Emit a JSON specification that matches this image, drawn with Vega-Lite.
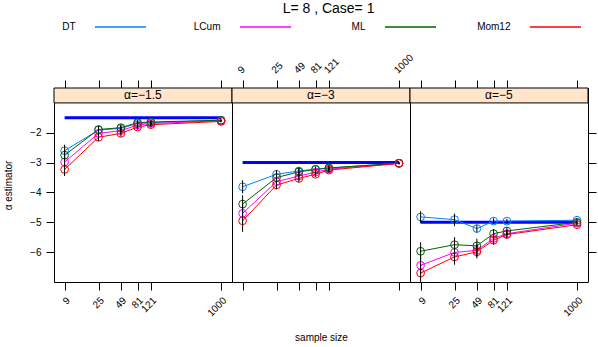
{
  "$schema": "https://vega.github.io/schema/vega-lite/v6.json",
  "padding": {"left": 3, "right": 0, "top": 2, "bottom": 0},
  "background": "white",
  "title": {"text": "L= 8 , Case= 1", "fontSize": 14, "fontWeight": "normal", "font": "Liberation Sans", "anchor": "middle", "dx": 10, "offset": 4, "color": "black"},
  "config": {
    "font": "Liberation Sans",
    "view": {"stroke": "black", "strokeWidth": 1},
    "axis": {"grid": false, "domain": false, "labelFont": "Liberation Sans", "titleFont": "Liberation Sans", "labelColor": "black", "titleColor": "black", "tickColor": "black", "labelFontSize": 10, "titleFontSize": 10, "titleFontWeight": "normal", "tickSize": 8, "labelPadding": 5, "labelOverlap": false}
  },
  "datasets": {
    "est": [
      {"panel": "-1.5", "n": 9, "estimator": "DT", "value": -2.60, "lo": -2.80, "hi": -2.40},
      {"panel": "-1.5", "n": 9, "estimator": "LCum", "value": -2.98, "lo": -3.18, "hi": -2.78},
      {"panel": "-1.5", "n": 9, "estimator": "ML", "value": -2.75, "lo": -2.95, "hi": -2.55},
      {"panel": "-1.5", "n": 9, "estimator": "Mom12", "value": -3.23, "lo": -3.45, "hi": -3.03},
      {"panel": "-1.5", "n": 25, "estimator": "DT", "value": -1.91, "lo": -2.03, "hi": -1.79},
      {"panel": "-1.5", "n": 25, "estimator": "LCum", "value": -2.02, "lo": -2.14, "hi": -1.90},
      {"panel": "-1.5", "n": 25, "estimator": "ML", "value": -1.89, "lo": -2.01, "hi": -1.77},
      {"panel": "-1.5", "n": 25, "estimator": "Mom12", "value": -2.15, "lo": -2.28, "hi": -2.03},
      {"panel": "-1.5", "n": 49, "estimator": "DT", "value": -1.85, "lo": -1.95, "hi": -1.75},
      {"panel": "-1.5", "n": 49, "estimator": "LCum", "value": -1.93, "lo": -2.03, "hi": -1.83},
      {"panel": "-1.5", "n": 49, "estimator": "ML", "value": -1.83, "lo": -1.93, "hi": -1.73},
      {"panel": "-1.5", "n": 49, "estimator": "Mom12", "value": -2.02, "lo": -2.13, "hi": -1.92},
      {"panel": "-1.5", "n": 81, "estimator": "DT", "value": -1.69, "lo": -1.77, "hi": -1.61},
      {"panel": "-1.5", "n": 81, "estimator": "LCum", "value": -1.74, "lo": -1.82, "hi": -1.66},
      {"panel": "-1.5", "n": 81, "estimator": "ML", "value": -1.66, "lo": -1.74, "hi": -1.58},
      {"panel": "-1.5", "n": 81, "estimator": "Mom12", "value": -1.81, "lo": -1.90, "hi": -1.73},
      {"panel": "-1.5", "n": 121, "estimator": "DT", "value": -1.66, "lo": -1.73, "hi": -1.59},
      {"panel": "-1.5", "n": 121, "estimator": "LCum", "value": -1.69, "lo": -1.76, "hi": -1.62},
      {"panel": "-1.5", "n": 121, "estimator": "ML", "value": -1.64, "lo": -1.71, "hi": -1.57},
      {"panel": "-1.5", "n": 121, "estimator": "Mom12", "value": -1.73, "lo": -1.81, "hi": -1.66},
      {"panel": "-1.5", "n": 1000, "estimator": "DT", "value": -1.58, "lo": -1.61, "hi": -1.55},
      {"panel": "-1.5", "n": 1000, "estimator": "LCum", "value": -1.60, "lo": -1.63, "hi": -1.57},
      {"panel": "-1.5", "n": 1000, "estimator": "ML", "value": -1.58, "lo": -1.61, "hi": -1.55},
      {"panel": "-1.5", "n": 1000, "estimator": "Mom12", "value": -1.62, "lo": -1.65, "hi": -1.59},
      {"panel": "-3", "n": 9, "estimator": "DT", "value": -3.81, "lo": -4.03, "hi": -3.59},
      {"panel": "-3", "n": 9, "estimator": "LCum", "value": -4.70, "lo": -5.03, "hi": -4.37},
      {"panel": "-3", "n": 9, "estimator": "ML", "value": -4.39, "lo": -4.69, "hi": -4.09},
      {"panel": "-3", "n": 9, "estimator": "Mom12", "value": -4.95, "lo": -5.32, "hi": -4.60},
      {"panel": "-3", "n": 25, "estimator": "DT", "value": -3.39, "lo": -3.53, "hi": -3.25},
      {"panel": "-3", "n": 25, "estimator": "LCum", "value": -3.64, "lo": -3.78, "hi": -3.50},
      {"panel": "-3", "n": 25, "estimator": "ML", "value": -3.50, "lo": -3.64, "hi": -3.36},
      {"panel": "-3", "n": 25, "estimator": "Mom12", "value": -3.75, "lo": -3.89, "hi": -3.61},
      {"panel": "-3", "n": 49, "estimator": "DT", "value": -3.28, "lo": -3.40, "hi": -3.16},
      {"panel": "-3", "n": 49, "estimator": "LCum", "value": -3.45, "lo": -3.57, "hi": -3.33},
      {"panel": "-3", "n": 49, "estimator": "ML", "value": -3.31, "lo": -3.43, "hi": -3.19},
      {"panel": "-3", "n": 49, "estimator": "Mom12", "value": -3.53, "lo": -3.66, "hi": -3.41},
      {"panel": "-3", "n": 81, "estimator": "DT", "value": -3.22, "lo": -3.31, "hi": -3.13},
      {"panel": "-3", "n": 81, "estimator": "LCum", "value": -3.32, "lo": -3.41, "hi": -3.23},
      {"panel": "-3", "n": 81, "estimator": "ML", "value": -3.23, "lo": -3.32, "hi": -3.14},
      {"panel": "-3", "n": 81, "estimator": "Mom12", "value": -3.39, "lo": -3.48, "hi": -3.30},
      {"panel": "-3", "n": 121, "estimator": "DT", "value": -3.18, "lo": -3.26, "hi": -3.10},
      {"panel": "-3", "n": 121, "estimator": "LCum", "value": -3.22, "lo": -3.30, "hi": -3.14},
      {"panel": "-3", "n": 121, "estimator": "ML", "value": -3.18, "lo": -3.26, "hi": -3.10},
      {"panel": "-3", "n": 121, "estimator": "Mom12", "value": -3.25, "lo": -3.34, "hi": -3.17},
      {"panel": "-3", "n": 1000, "estimator": "DT", "value": -3.02, "lo": -3.05, "hi": -2.99},
      {"panel": "-3", "n": 1000, "estimator": "LCum", "value": -3.02, "lo": -3.05, "hi": -2.99},
      {"panel": "-3", "n": 1000, "estimator": "ML", "value": -3.02, "lo": -3.05, "hi": -2.99},
      {"panel": "-3", "n": 1000, "estimator": "Mom12", "value": -3.03, "lo": -3.06, "hi": -3.00},
      {"panel": "-5", "n": 9, "estimator": "DT", "value": -4.82, "lo": -5.02, "hi": -4.63},
      {"panel": "-5", "n": 9, "estimator": "LCum", "value": -6.44, "lo": -6.74, "hi": -6.14},
      {"panel": "-5", "n": 9, "estimator": "ML", "value": -5.97, "lo": -6.27, "hi": -5.67},
      {"panel": "-5", "n": 9, "estimator": "Mom12", "value": -6.70, "lo": -7.00, "hi": -6.40},
      {"panel": "-5", "n": 25, "estimator": "DT", "value": -4.91, "lo": -5.13, "hi": -4.71},
      {"panel": "-5", "n": 25, "estimator": "LCum", "value": -6.01, "lo": -6.26, "hi": -5.76},
      {"panel": "-5", "n": 25, "estimator": "ML", "value": -5.75, "lo": -6.00, "hi": -5.50},
      {"panel": "-5", "n": 25, "estimator": "Mom12", "value": -6.16, "lo": -6.42, "hi": -5.91},
      {"panel": "-5", "n": 49, "estimator": "DT", "value": -5.21, "lo": -5.34, "hi": -5.08},
      {"panel": "-5", "n": 49, "estimator": "LCum", "value": -5.94, "lo": -6.16, "hi": -5.72},
      {"panel": "-5", "n": 49, "estimator": "ML", "value": -5.79, "lo": -6.03, "hi": -5.55},
      {"panel": "-5", "n": 49, "estimator": "Mom12", "value": -5.99, "lo": -6.21, "hi": -5.77},
      {"panel": "-5", "n": 81, "estimator": "DT", "value": -4.96, "lo": -5.06, "hi": -4.86},
      {"panel": "-5", "n": 81, "estimator": "LCum", "value": -5.54, "lo": -5.69, "hi": -5.39},
      {"panel": "-5", "n": 81, "estimator": "ML", "value": -5.38, "lo": -5.53, "hi": -5.23},
      {"panel": "-5", "n": 81, "estimator": "Mom12", "value": -5.60, "lo": -5.75, "hi": -5.45},
      {"panel": "-5", "n": 121, "estimator": "DT", "value": -4.96, "lo": -5.04, "hi": -4.88},
      {"panel": "-5", "n": 121, "estimator": "LCum", "value": -5.38, "lo": -5.50, "hi": -5.26},
      {"panel": "-5", "n": 121, "estimator": "ML", "value": -5.29, "lo": -5.41, "hi": -5.17},
      {"panel": "-5", "n": 121, "estimator": "Mom12", "value": -5.41, "lo": -5.53, "hi": -5.29},
      {"panel": "-5", "n": 1000, "estimator": "DT", "value": -4.93, "lo": -4.97, "hi": -4.89},
      {"panel": "-5", "n": 1000, "estimator": "LCum", "value": -5.03, "lo": -5.07, "hi": -4.99},
      {"panel": "-5", "n": 1000, "estimator": "ML", "value": -5.00, "lo": -5.04, "hi": -4.96},
      {"panel": "-5", "n": 1000, "estimator": "Mom12", "value": -5.08, "lo": -5.12, "hi": -5.04}
    ],
    "truth": [
      {"panel": "-1.5", "n": 9, "value": -1.5},
      {"panel": "-1.5", "n": 1000, "value": -1.5},
      {"panel": "-3", "n": 9, "value": -3},
      {"panel": "-3", "n": 1000, "value": -3},
      {"panel": "-5", "n": 9, "value": -5},
      {"panel": "-5", "n": 1000, "value": -5}
    ],
    "keys": [
      {"estimator": "DT"}, {"estimator": "LCum"}, {"estimator": "ML"}, {"estimator": "Mom12"}
    ]
  },
  "vconcat": [
    {
      "width": 580,
      "height": 14,
      "view": {"stroke": null},
      "data": {"name": "keys"},
      "layer": [
        {
          "mark": {"type": "tick", "orient": "horizontal", "size": 51, "thickness": 1.5, "opacity": 1},
          "encoding": {
            "x": {"field": "estimator", "type": "nominal", "scale": {"domain": ["DT", "LCum", "ML", "Mom12"], "paddingInner": 0, "paddingOuter": 0, "range": [-6, 574]}, "axis": null},
            "color": {"field": "estimator", "type": "nominal", "scale": {"domain": ["DT", "LCum", "ML", "Mom12"], "range": ["#0080ff", "#ff00ff", "#006400", "#ff0000"]}, "legend": null}
          }
        },
        {
          "mark": {"type": "text", "align": "right", "baseline": "middle", "dx": -45, "fontSize": 10, "color": "black"},
          "encoding": {
            "x": {"field": "estimator", "type": "nominal", "axis": null},
            "text": {"field": "estimator"}
          }
        }
      ]
    },
    {
      "bounds": "flush",
      "spacing": 0,
      "hconcat": [
        {
          "width": 178, "height": 194,
          "resolve": {"axis": {"x": "independent", "y": "independent"}},
          "layer": [
            {
              "data": {"values": [{"label": "α=−1.5"}]},
              "mark": {"type": "rect", "fill": "#ffe5cc", "stroke": "black", "strokeWidth": 1},
              "encoding": {
                "x": {"datum": 6.54, "type": "quantitative", "scale": {"type": "log", "domain": [6.54, 1392], "nice": false}, "axis": {"orient": "bottom", "values": [9, 25, 49, 81, 121, 1000], "format": "d", "labelAngle": -45, "title": null}},
                "x2": {"datum": 1392},
                "y": {"datum": -1.0, "type": "quantitative", "scale": {"domain": [-7, -0.5], "nice": false, "zero": false}, "axis": {"orient": "left", "values": [-2, -3, -4, -5, -6], "title": "α estimator", "labelPadding": 5, "titlePadding": 16}},
                "y2": {"datum": -0.5}
              }
            },
            {
              "data": {"values": [{"label": "α=−1.5"}]},
              "mark": {"type": "text", "fontSize": 12, "baseline": "middle", "align": "center", "color": "black"},
              "encoding": {
                "x": {"datum": 95, "type": "quantitative", "axis": {"orient": "top", "values": [9, 25, 49, 81, 121, 1000], "labels": false, "title": null}},
                "y": {"datum": -0.75, "type": "quantitative", "axis": null},
                "text": {"field": "label"}
              }
            },
            {
              "data": {"name": "truth"},
              "transform": [{"filter": {"field": "panel", "equal": "-1.5"}}],
              "mark": {"type": "line", "color": "#0000ff", "strokeWidth": 3},
              "encoding": {"x": {"field": "n", "type": "quantitative", "axis": null}, "y": {"field": "value", "type": "quantitative", "axis": null}}
            },
            {
              "data": {"name": "est"},
              "transform": [{"filter": {"field": "panel", "equal": "-1.5"}}],
              "mark": {"type": "line", "strokeWidth": 1},
              "encoding": {"x": {"field": "n", "type": "quantitative", "axis": null}, "y": {"field": "value", "type": "quantitative", "axis": null}, "color": {"field": "estimator", "type": "nominal", "scale": {"domain": ["DT", "LCum", "ML", "Mom12"], "range": ["#0080ff", "#ff00ff", "#006400", "#ff0000"]}, "legend": null}}
            },
            {
              "data": {"name": "est"},
              "transform": [{"filter": {"field": "panel", "equal": "-1.5"}}],
              "mark": {"type": "point", "shape": "circle", "filled": false, "size": 60, "strokeWidth": 1, "opacity": 1},
              "encoding": {"x": {"field": "n", "type": "quantitative", "axis": null}, "y": {"field": "value", "type": "quantitative", "axis": null}, "color": {"field": "estimator", "type": "nominal", "legend": null}}
            },
            {
              "data": {"name": "est"},
              "transform": [{"filter": {"field": "panel", "equal": "-1.5"}}],
              "mark": {"type": "rule", "color": "black", "strokeWidth": 1},
              "encoding": {"x": {"field": "n", "type": "quantitative", "axis": null}, "y": {"field": "lo", "type": "quantitative", "axis": null}, "y2": {"field": "hi"}}
            }
          ]
        },
        {
          "width": 178, "height": 194,
          "resolve": {"axis": {"x": "independent", "y": "independent"}},
          "layer": [
            {
              "data": {"values": [{"label": "α=−3"}]},
              "mark": {"type": "rect", "fill": "#ffe5cc", "stroke": "black", "strokeWidth": 1},
              "encoding": {
                "x": {"datum": 6.54, "type": "quantitative", "scale": {"type": "log", "domain": [6.54, 1392], "nice": false}, "axis": {"orient": "bottom", "values": [9, 25, 49, 81, 121, 1000], "labels": false, "title": "sample size", "titlePadding": 42}},
                "x2": {"datum": 1392},
                "y": {"datum": -1.0, "type": "quantitative", "scale": {"domain": [-7, -0.5], "nice": false, "zero": false}, "axis": null},
                "y2": {"datum": -0.5}
              }
            },
            {
              "data": {"values": [{"label": "α=−3"}]},
              "mark": {"type": "text", "fontSize": 12, "baseline": "middle", "align": "center", "color": "black"},
              "encoding": {
                "x": {"datum": 95, "type": "quantitative", "axis": {"orient": "top", "values": [9, 25, 49, 81, 121, 1000], "format": "d", "labelAngle": -45, "title": null}},
                "y": {"datum": -0.75, "type": "quantitative", "axis": null},
                "text": {"field": "label"}
              }
            },
            {
              "data": {"name": "truth"},
              "transform": [{"filter": {"field": "panel", "equal": "-3"}}],
              "mark": {"type": "line", "color": "#0000ff", "strokeWidth": 3},
              "encoding": {"x": {"field": "n", "type": "quantitative", "axis": null}, "y": {"field": "value", "type": "quantitative", "axis": null}}
            },
            {
              "data": {"name": "est"},
              "transform": [{"filter": {"field": "panel", "equal": "-3"}}],
              "mark": {"type": "line", "strokeWidth": 1},
              "encoding": {"x": {"field": "n", "type": "quantitative", "axis": null}, "y": {"field": "value", "type": "quantitative", "axis": null}, "color": {"field": "estimator", "type": "nominal", "scale": {"domain": ["DT", "LCum", "ML", "Mom12"], "range": ["#0080ff", "#ff00ff", "#006400", "#ff0000"]}, "legend": null}}
            },
            {
              "data": {"name": "est"},
              "transform": [{"filter": {"field": "panel", "equal": "-3"}}],
              "mark": {"type": "point", "shape": "circle", "filled": false, "size": 60, "strokeWidth": 1, "opacity": 1},
              "encoding": {"x": {"field": "n", "type": "quantitative", "axis": null}, "y": {"field": "value", "type": "quantitative", "axis": null}, "color": {"field": "estimator", "type": "nominal", "legend": null}}
            },
            {
              "data": {"name": "est"},
              "transform": [{"filter": {"field": "panel", "equal": "-3"}}],
              "mark": {"type": "rule", "color": "black", "strokeWidth": 1},
              "encoding": {"x": {"field": "n", "type": "quantitative", "axis": null}, "y": {"field": "lo", "type": "quantitative", "axis": null}, "y2": {"field": "hi"}}
            }
          ]
        },
        {
          "width": 178, "height": 194,
          "resolve": {"axis": {"x": "independent", "y": "independent"}},
          "layer": [
            {
              "data": {"values": [{"label": "α=−5"}]},
              "mark": {"type": "rect", "fill": "#ffe5cc", "stroke": "black", "strokeWidth": 1},
              "encoding": {
                "x": {"datum": 6.54, "type": "quantitative", "scale": {"type": "log", "domain": [6.54, 1392], "nice": false}, "axis": {"orient": "bottom", "values": [9, 25, 49, 81, 121, 1000], "format": "d", "labelAngle": -45, "title": null}},
                "x2": {"datum": 1392},
                "y": {"datum": -1.0, "type": "quantitative", "scale": {"domain": [-7, -0.5], "nice": false, "zero": false}, "axis": {"orient": "right", "values": [-2, -3, -4, -5, -6], "labels": false, "title": null}},
                "y2": {"datum": -0.5}
              }
            },
            {
              "data": {"values": [{"label": "α=−5"}]},
              "mark": {"type": "text", "fontSize": 12, "baseline": "middle", "align": "center", "color": "black"},
              "encoding": {
                "x": {"datum": 95, "type": "quantitative", "axis": {"orient": "top", "values": [9, 25, 49, 81, 121, 1000], "labels": false, "title": null}},
                "y": {"datum": -0.75, "type": "quantitative", "axis": null},
                "text": {"field": "label"}
              }
            },
            {
              "data": {"name": "truth"},
              "transform": [{"filter": {"field": "panel", "equal": "-5"}}],
              "mark": {"type": "line", "color": "#0000ff", "strokeWidth": 3},
              "encoding": {"x": {"field": "n", "type": "quantitative", "axis": null}, "y": {"field": "value", "type": "quantitative", "axis": null}}
            },
            {
              "data": {"name": "est"},
              "transform": [{"filter": {"field": "panel", "equal": "-5"}}],
              "mark": {"type": "line", "strokeWidth": 1},
              "encoding": {"x": {"field": "n", "type": "quantitative", "axis": null}, "y": {"field": "value", "type": "quantitative", "axis": null}, "color": {"field": "estimator", "type": "nominal", "scale": {"domain": ["DT", "LCum", "ML", "Mom12"], "range": ["#0080ff", "#ff00ff", "#006400", "#ff0000"]}, "legend": null}}
            },
            {
              "data": {"name": "est"},
              "transform": [{"filter": {"field": "panel", "equal": "-5"}}],
              "mark": {"type": "point", "shape": "circle", "filled": false, "size": 60, "strokeWidth": 1, "opacity": 1},
              "encoding": {"x": {"field": "n", "type": "quantitative", "axis": null}, "y": {"field": "value", "type": "quantitative", "axis": null}, "color": {"field": "estimator", "type": "nominal", "legend": null}}
            },
            {
              "data": {"name": "est"},
              "transform": [{"filter": {"field": "panel", "equal": "-5"}}],
              "mark": {"type": "rule", "color": "black", "strokeWidth": 1},
              "encoding": {"x": {"field": "n", "type": "quantitative", "axis": null}, "y": {"field": "lo", "type": "quantitative", "axis": null}, "y2": {"field": "hi"}}
            }
          ]
        }
      ]
    }
  ],
  "spacing": 17
}
